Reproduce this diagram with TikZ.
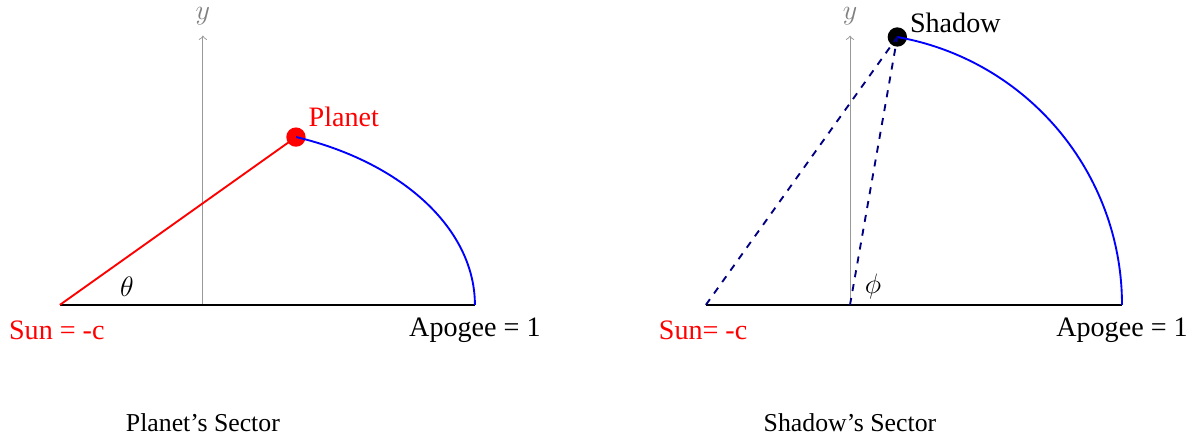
\documentclass[tikz,border=0pt]{standalone}
\usepackage{fontspec}
\setmainfont{Liberation Serif}
\usetikzlibrary{positioning}
\tikzset{
  axis/.style={gray!80,->},
  base/.style={thick,black},
  orbit/.style={thick,blue},
  ray/.style={thick,navy,dashed},
  lbl/.style={font=\rmfamily\fontsize{12}{14}\selectfont,inner sep=1pt},
  captxt/.style={font=\rmfamily\fontsize{11}{13}\selectfont,inner sep=1pt},
  dot/.style={circle,fill,minimum size=0.29cm,inner sep=0pt}
}
\definecolor{navy}{RGB}{0,0,128}
\begin{document}
\begin{tikzpicture}[x=4.08cm,y=4.08cm]
\useasboundingbox (-0.746,-0.489) rectangle (3.640,1.121);
% planet's sector
\coordinate (o1) at (0,0);
\coordinate (s1) at (-0.526,0);
\coordinate (a1) at (1,0);
\coordinate (y1) at (0,0.99);
\node[dot,red] (p) at (0.342,0.617) {};
\node[lbl,red,above right=0 and 0.01 of p] (pl) {Planet};
\node[lbl,red] (sl1) at (-0.537,-0.092) {Sun = -c};
\node[lbl] (al1) at (1,-0.092) {Apogee = 1};
\node[lbl] (th) at (-0.279,0.066) {$\theta$};
\node[lbl,gray,inner sep=0pt] (yl1) at (0,1.06) {$y$};
\draw[axis] (o1)--(y1);
\draw[base] (s1)--(a1);
\draw[orbit] (a1) arc[start angle=0,end angle=70,x radius=1,y radius=0.657];
\draw[thick,red] (s1)--(p.center);
\node[captxt] (c1) at (0,-0.434) {Planet's Sector};
% shadow's sector
\coordinate (o2) at (2.379,0);
\coordinate (s2) at (1.849,0);
\coordinate (a2) at (3.379,0);
\coordinate (y2) at (2.379,0.99);
\node[dot,black] (sh) at (2.553,0.985) {};
\node[lbl,above right=-0.02 and 0.01 of sh] (shl) {Shadow};
\node[lbl,red] (sl2) at (1.839,-0.092) {Sun= -c};
\node[lbl] (al2) at (3.379,-0.092) {Apogee = 1};
\node[lbl] (ph) at (2.464,0.066) {$\phi$};
\node[lbl,gray,inner sep=0pt] (yl2) at (2.379,1.06) {$y$};
\draw[axis] (o2)--(y2);
\draw[base] (s2)--(a2);
\draw[orbit] (a2) arc[start angle=0,end angle=80,radius=1];
\foreach \a/\b in {s2/sh,o2/sh}
  \draw[ray] (\a)--(\b.center);
\node[captxt] (c2) at (2.379,-0.434) {Shadow's Sector};
\end{tikzpicture}
\end{document}
